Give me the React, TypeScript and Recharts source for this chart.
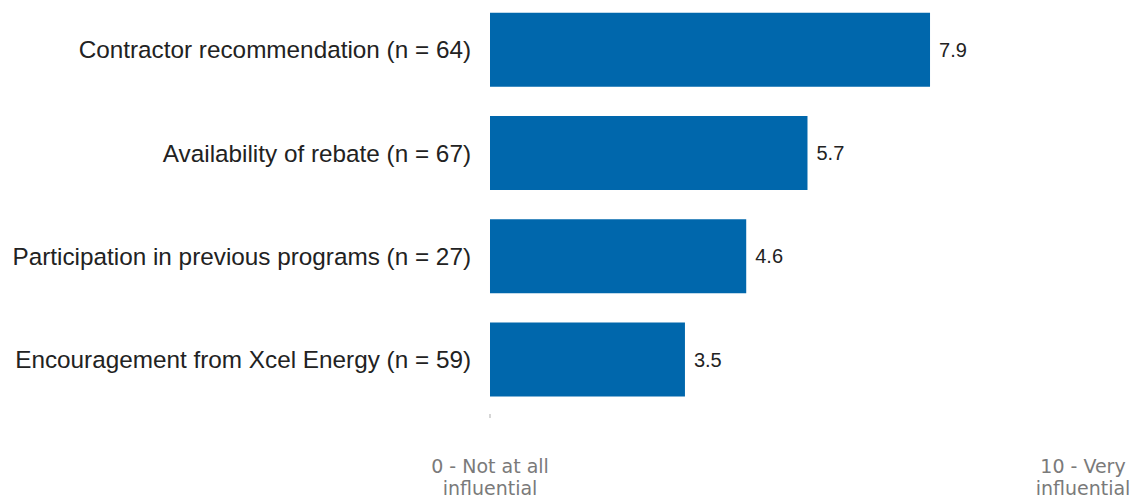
import { Bar, BarChart, LabelList, XAxis, YAxis } from "recharts";

// Mean influence rating (0-10) by factor
const FACTORS = [
  "Contractor recommendation (n = 64)",
  "Availability of rebate (n = 67)",
  "Participation in previous programs (n = 27)",
  "Encouragement from Xcel Energy (n = 59)",
];
const SCORES = [7.9, 5.7, 4.6, 3.5];
const SCALE_TICKS = [0, 10];
const SCALE_LABELS = [
  ["0 - Not at all", "influential"],
  ["10 - Very", "influential"],
];

const COLORS = {
  bar: "#0067ac",
  text: "#222222",
  axis: "#7a7a7a",
  tick: "#c8c8c8",
};

const data = FACTORS.map((factor, i) => ({ factor, score: SCORES[i] }));

const WIDTH = 1131;
const HEIGHT = 497;

function ScaleTick(props: any) {
  const { x, y, index } = props;
  const lines = SCALE_LABELS[index] ?? [];
  const last = index === SCALE_TICKS.length - 1;
  // the right-hand end label sits centred past the last tick, near the edge
  const tx = last ? x + 36 : x;
  return (
    <g>
      {index === 0 && (
        <line x1={x} x2={x} y1={y - 5} y2={y - 1} stroke={COLORS.tick} strokeWidth={1.5} />
      )}
      <text
        x={tx}
        y={y + 54}
        textAnchor="middle"
        fill={COLORS.axis}
        fontSize={19}
        fontFamily="DejaVu Sans, sans-serif"
      >
        {lines.map((l, i) => (
          <tspan key={i} x={tx} dy={i === 0 ? 0 : 22}>
            {l}
          </tspan>
        ))}
      </text>
    </g>
  );
}

export default function App() {
  return (
    <div style={{ position: "absolute", left: 0, top: 0, background: "#fff" }}>
      <BarChart
        width={WIDTH}
        height={HEIGHT}
        data={data}
        layout="vertical"
        margin={{ top: -2, right: 84, bottom: 0, left: 0 }}
        barCategoryGap="14.4%"
      >
        <XAxis
          type="number"
          domain={[0, 10]}
          ticks={SCALE_TICKS}
          axisLine={false}
          tickLine={false}
          height={86}
          tick={<ScaleTick />}
          interval={0}
        />
        <YAxis
          type="category"
          dataKey="factor"
          width={490}
          axisLine={false}
          tickLine={false}
          tickMargin={13}
          tick={{
            fill: COLORS.text,
            fontSize: 24.3,
            fontFamily: "Liberation Sans, Arial, sans-serif",
          }}
        />
        <Bar dataKey="score" fill={COLORS.bar} isAnimationActive={false}>
          <LabelList
            dataKey="score"
            position="right"
            offset={9}
            fill={COLORS.text}
            fontSize={20}
            fontFamily="Liberation Sans, Arial, sans-serif"
          />
        </Bar>
      </BarChart>
    </div>
  );
}
